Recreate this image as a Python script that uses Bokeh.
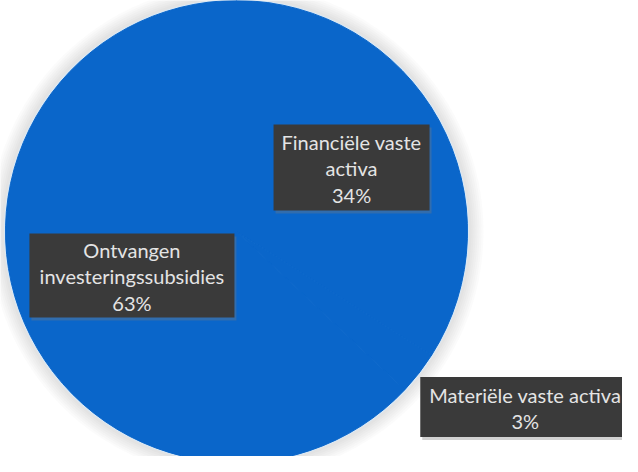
import numpy as np
from bokeh.plotting import figure
from bokeh.models import Range1d, ColumnDataSource
from bokeh.core.properties import value
from bokeh.embed import file_html
from bokeh.resources import INLINE

# ---- data ----
categories = ["Financiële vaste activa", "Materiële vaste activa", "Ontvangen investeringssubsidies"]
values = [34, 3, 63]
label_lines = [["Financiële vaste", "activa"], ["Materiële vaste activa"], ["Ontvangen", "investeringssubsidies"]]

# ---- layout / style ----
W, H = 622, 456
CX, CY, R = 244, 233, 231
label_radius = [0.570, 1.463, 0.491]      # fraction of R
label_angle_shift = [0.3, 6.5, -0.6]       # degrees
box_sizes = [(156, 86), (210, 60), (205, 84)]
BLUE = "#0a66ca"
BOX = "#3a3a3a"
TXT = "#e4e4e4"
FONT = "Lato"
FSIZE = "20px"
LINE_STEP = 26.5

p = figure(width=W, height=H, x_range=Range1d(8, 8 + W), y_range=Range1d(8, 8 + H),
           output_backend="svg", toolbar_location=None, min_border=0)
p.axis.visible = False
p.grid.visible = False
p.outline_line_color = None
p.background_fill_color = "#ffffff"
p.border_fill_color = "#ffffff"

# soft halo around the pie
for k in range(7):
    p.circle(x=[CX], y=[CY], radius=R + 16 - 2 * k, fill_color="#9a9a9a",
             fill_alpha=0.035, line_color=None)
p.circle(x=[CX], y=[CY], radius=R + 1.5, fill_color="#d8e8f6", line_color=None)

vals = np.array(values, dtype=float)
frac = vals / vals.sum()
cum = np.concatenate([[0], np.cumsum(frac)])
start = np.pi / 2 - 2 * np.pi * cum[:-1]
end = np.pi / 2 - 2 * np.pi * cum[1:]
src = ColumnDataSource(dict(start=start, end=end, cat=categories))
p.wedge(x=CX, y=CY, radius=R, start_angle="start", end_angle="end", direction="clock",
        fill_color=BLUE, line_color=BLUE, line_width=1, source=src)

mid = (start + end) / 2
for i, cat in enumerate(categories):
    ang = mid[i] + np.deg2rad(label_angle_shift[i])
    bx = CX + label_radius[i] * R * np.cos(ang)
    by = CY + label_radius[i] * R * np.sin(ang)
    bw, bh = box_sizes[i]
    p.rect(x=[bx + 2], y=[by - 3], width=bw, height=bh, fill_color="#7a7a7a",
           fill_alpha=0.35, line_color=None)
    p.rect(x=[bx], y=[by], width=bw, height=bh, fill_color=BOX, line_color=None)
    lines = label_lines[i] + [f"{round(frac[i] * 100)}%"]
    n = len(lines)
    ys = [by - (j - (n - 1) / 2) * LINE_STEP - 1 for j in range(n)]
    p.text(x=[bx] * n, y=ys, text=lines, text_align="center", text_baseline="middle",
           text_font=value(FONT), text_font_size=FSIZE, text_color=TXT)

open("out.html", "w").write(file_html(p, INLINE))
